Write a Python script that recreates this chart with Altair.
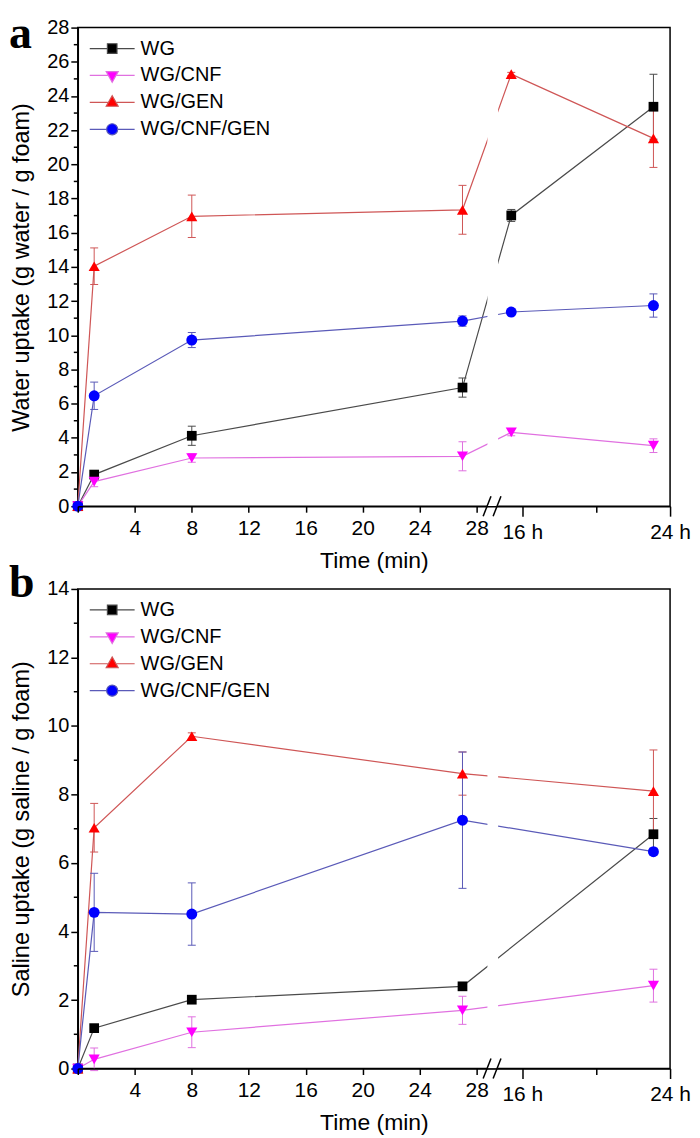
import altair as alt
import pandas as pd

FONT = "Liberation Sans"
SERIF = "Liberation Serif"

SERIES = ["WG", "WG/CNF", "WG/GEN", "WG/CNF/GEN"]
MARKER_COLORS = ["#000000", "#ff00ff", "#ff0000", "#0000ff"]
LINE_COLORS = ["#4a4a4a", "#e070e0", "#cf5656", "#5a5ab8"]
MARKER_SHAPES = ["square", "triangle-down", "triangle-up", "circle"]
MARKER_SIZES = [95, 125, 125, 120]
LEGEND_PATHS = [
    "M-1.5,0H-0.32M0.32,0H1.5M-0.32,-0.32H0.32V0.32H-0.32Z",
    "M-1.5,0H-0.3M0.3,0H1.5M-0.4,-0.26H0.4L0,0.45Z",
    "M-1.5,0H-0.3M0.3,0H1.5M-0.4,0.26H0.4L0,-0.45Z",
    "M-1.5,0H-0.37M0.37,0H1.5M-0.37,0A0.37,0.37,0,1,1,0.37,0A0.37,0.37,0,1,1,-0.37,0Z",
]

# broken time axis: minutes 0-28, then hours 16-24
MIN_TICKS = [0, 4, 8, 12, 16, 20, 24, 28]
HOUR_TICKS = [16, 20, 24]
H16_POS = 31.2      # axis position of 16 h
H_STEP = 1.296      # axis units per hour
GAP = [28.75, 29.5]
SLASH_X1 = [28.45, 29.15]
SLASH_X2 = [29.0, 29.7]

# panel a: water uptake
A_MIN = [0, 1.15, 8, 27]
A_HOUR = [15.4, 23.1]
A_WG = [0, 1.85, 4.12, 6.94, 17.01, 23.37]
A_WG_ERR = [0, 0.1, 0.56, 0.56, 0.35, 1.9]
A_CNF = [0, 1.44, 2.82, 2.92, 4.32, 3.54]
A_CNF_ERR = [0, 0.3, 0.25, 0.85, 0.2, 0.4]
A_GEN = [0, 14.04, 16.96, 17.34, 25.28, 21.52]
A_GEN_ERR = [0, 1.07, 1.24, 1.43, 0.1, 1.7]
A_CG = [0, 6.46, 9.72, 10.83, 11.36, 11.74]
A_CG_ERR = [0, 0.8, 0.44, 0.3, 0.1, 0.68]

# panel b: saline uptake
B_MIN = [0, 1.15, 8, 27]
B_HOUR = [23.1]
B_WG = [0, 1.18, 2.01, 2.40, 6.84]
B_WG_ERR = [0, 0.05, 0.05, 0.05, 0.46]
B_CNF = [0, 0.27, 1.06, 1.70, 2.42]
B_CNF_ERR = [0, 0.33, 0.45, 0.41, 0.48]
B_GEN = [0, 7.03, 9.70, 8.61, 8.10]
B_GEN_ERR = [0, 0.71, 0.1, 0.63, 1.2]
B_CG = [0, 4.56, 4.51, 7.25, 6.33]
B_CG_ERR = [0, 1.14, 0.91, 1.99, 0.1]

XMAX = H16_POS + (HOUR_TICKS[-1] - 16) * H_STEP
X_TICK_POS = MIN_TICKS + [H16_POS + (h - 16) * H_STEP for h in HOUR_TICKS]


def build(times_min, times_h, values, errs):
    rows = []
    times = [(t, "min") for t in times_min] + [(t, "h") for t in times_h]
    for s, vals, es in zip(SERIES, values, errs):
        for (t, u), v, e in zip(times, vals, es):
            pos = t if u == "min" else H16_POS + (t - 16) * H_STEP
            rows.append(dict(series=s, t=t, unit=u, pos=pos, val=v, err=e))
    return pd.DataFrame(rows)


LABEL_EXPR = (
    "datum.value == 0 ? '' : (datum.value <= 28.5 ? format(datum.value, 'd') : "
    f"(abs(datum.value - {H16_POS}) < 0.05 ? '16 h' : "
    f"(abs(datum.value - {XMAX}) < 0.05 ? '24 h' : '')))"
)
TICK_SIZE = {
    "condition": {
        "test": f"abs(datum.value - {H16_POS}) < 0.05 || abs(datum.value - {XMAX}) < 0.05",
        "value": 10,
    },
    "value": 6,
}

LEG = alt.Legend(
    orient="none", legendX=18.5, legendY=5, title=None, labelFontSize=20,
    labelFont=FONT, symbolSize=900, symbolStrokeWidth=1.2, labelOffset=12.5,
    padding=0, rowPadding=1, labelColor="black",
)


def panel(df, ymax, ytitle, letter, height, letter_y):
    xscale = alt.Scale(domain=[0, XMAX], nice=False, zero=False)
    yscale = alt.Scale(domain=[0, ymax], nice=False, zero=False)
    xaxis = alt.Axis(
        values=X_TICK_POS, labelExpr=LABEL_EXPR, tickSize=TICK_SIZE,
        title="Time (min)", titleFontSize=23, labelFontSize=21, labelPadding=5,
        titlePadding=7, zindex=1, labelFlush=False, labelOverlap=False,
    )
    yaxis = alt.Axis(
        values=list(range(0, ymax + 1, 2)), tickSize=7, title=ytitle,
        titleFontSize=23.5, titlePadding=13, labelPadding=2, labelFlush=False,
    )

    def X(field):
        return alt.X(field, scale=xscale, axis=xaxis)

    def Y(field):
        return alt.Y(field, scale=yscale, axis=yaxis)

    base = alt.Chart(df)
    errdf = base.transform_filter("datum.err > 0").transform_calculate(
        lo="datum.val - datum.err", hi="datum.val + datum.err"
    )

    lines, bars, markers = [], [], []
    for s, lc, mc, sh, sz in zip(SERIES, LINE_COLORS, MARKER_COLORS, MARKER_SHAPES, MARKER_SIZES):
        sel = alt.datum.series == s
        lines.append(base.transform_filter(sel).mark_line(strokeWidth=1.2, color=lc).encode(
            x=X("pos:Q"), y=Y("val:Q")))
        e = errdf.transform_filter(sel)
        bars.append(e.mark_rule(strokeWidth=1, color=lc).encode(
            x=X("pos:Q"), y=Y("lo:Q"), y2="hi:Q"))
        for f in ["lo", "hi"]:
            bars.append(e.mark_point(shape="stroke", size=64, filled=False, strokeWidth=1,
                                     opacity=1, color=lc).encode(x=X("pos:Q"), y=Y(f"{f}:Q")))
        markers.append(base.transform_filter(sel).mark_point(
            shape=sh, filled=True, color=mc, size=sz, opacity=1).encode(x=X("pos:Q"), y=Y("val:Q")))

    band = alt.Chart(pd.DataFrame({"x1": [GAP[0]], "x2": [GAP[1]], "y1": [0], "y2": [ymax * 0.996]})).mark_rect(
        fill="white"
    ).encode(x=X("x1:Q"), x2="x2:Q", y=Y("y1:Q"), y2="y2:Q")

    minor = alt.Chart(pd.DataFrame({"v": list(range(1, ymax, 2))})).mark_rule(
        color="black", strokeWidth=1.5
    ).encode(x=alt.value(-4), x2=alt.value(0), y=Y("v:Q"))
    slashes = alt.Chart(pd.DataFrame({"x1": SLASH_X1, "x2": SLASH_X2})).mark_rule(
        color="black", strokeWidth=1.5
    ).encode(x=X("x1:Q"), x2="x2:Q", y=alt.value(height + 10), y2=alt.value(height - 10))
    letter_layer = alt.Chart(pd.DataFrame({"label": [letter]})).mark_text(
        font=SERIF, fontWeight="bold", fontSize=46, align="left", baseline="alphabetic", color="black"
    ).encode(text="label:N", x=alt.value(-69), y=alt.value(letter_y))
    legend_layer = base.transform_filter("false").mark_point(
        filled=True, opacity=1, strokeWidth=1.2
    ).encode(
        x=X("pos:Q"), y=Y("val:Q"),
        fill=alt.Fill("series:N", scale=alt.Scale(domain=SERIES, range=MARKER_COLORS), legend=LEG),
        stroke=alt.Stroke("series:N", scale=alt.Scale(domain=SERIES, range=LINE_COLORS), legend=LEG),
        shape=alt.Shape("series:N", scale=alt.Scale(domain=SERIES, range=LEGEND_PATHS), legend=LEG),
    )
    return alt.layer(
        *lines, band, *bars, *markers, slashes, minor, letter_layer, legend_layer
    ).properties(width=594, height=height)


df_a = build(A_MIN, A_HOUR, [A_WG, A_CNF, A_GEN, A_CG], [A_WG_ERR, A_CNF_ERR, A_GEN_ERR, A_CG_ERR])
df_b = build(B_MIN, B_HOUR, [B_WG, B_CNF, B_GEN, B_CG], [B_WG_ERR, B_CNF_ERR, B_GEN_ERR, B_CG_ERR])

pa = panel(df_a, 28, "Water uptake (g water / g foam)", "a", 480, 20)
pb = panel(df_b, 14, "Saline uptake (g saline / g foam)", "b", 481, 8)

chart = alt.vconcat(pa, pb, spacing=83, bounds="flush").resolve_scale(
    fill="independent", stroke="independent", shape="independent"
).resolve_legend(
    fill="independent", stroke="independent", shape="independent"
).properties(
    padding=0
).configure_view(stroke="black", strokeWidth=1.5).configure_axis(
    domainColor="black", domainWidth=1.5, tickColor="black", tickWidth=1.5,
    labelColor="black", titleColor="black", grid=False, labelFont=FONT,
    titleFont=FONT, titleFontWeight="normal", labelFontSize=20,
)

chart.save("out.html", embed_options={"renderer": "svg", "actions": False})
